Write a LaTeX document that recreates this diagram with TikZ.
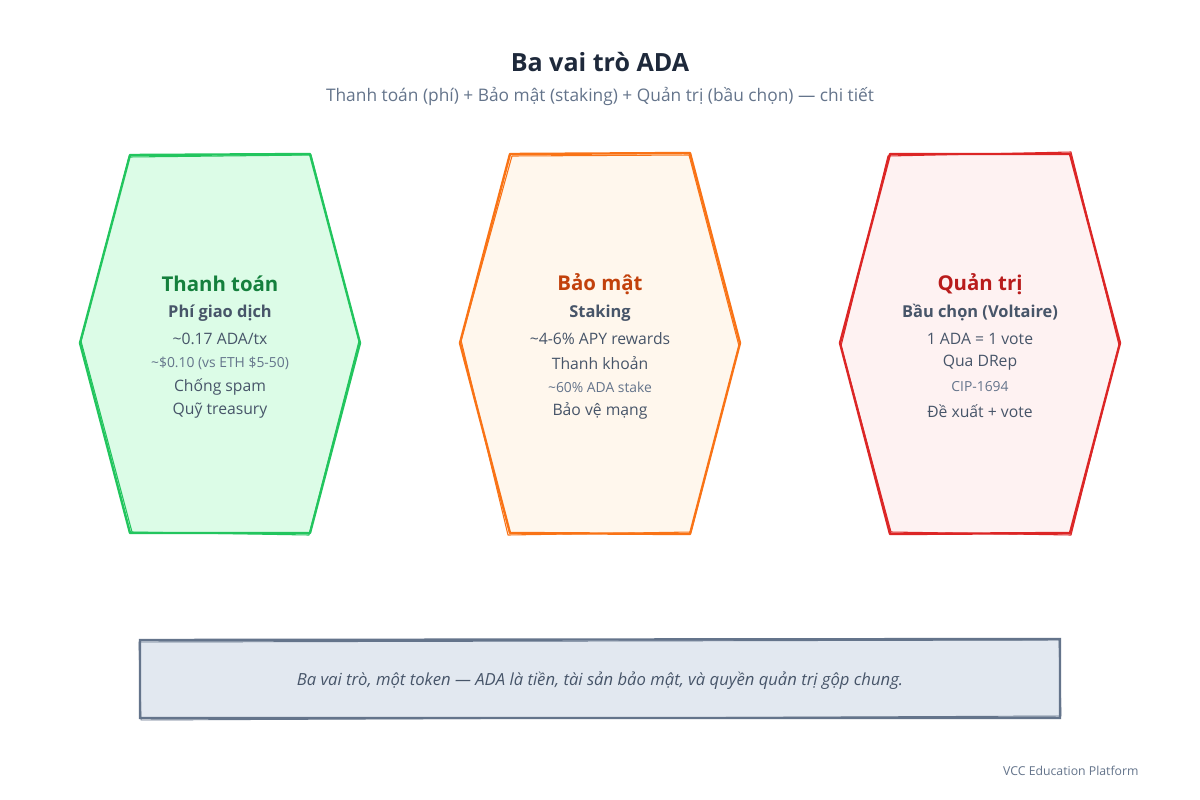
\documentclass[tikz,border=0pt]{standalone}
\usepackage{fontspec}
\setmainfont{Open Sans}

\definecolor{titlecol}{HTML}{1E293B}
\definecolor{subcol}{HTML}{64748B}
\definecolor{bodycol}{HTML}{475569}
\definecolor{greenline}{HTML}{22C55E}
\definecolor{greenfill}{HTML}{DCFCE7}
\definecolor{greenhead}{HTML}{15803D}
\definecolor{orangeline}{HTML}{F97316}
\definecolor{orangefill}{HTML}{FFF7ED}
\definecolor{orangehead}{HTML}{C2410C}
\definecolor{redline}{HTML}{DC2626}
\definecolor{redfill}{HTML}{FEF2F2}
\definecolor{redhead}{HTML}{B91C1C}
\definecolor{boxfill}{HTML}{E2E8F0}
\definecolor{boxline}{HTML}{64748B}

\tikzset{every picture/.style={line width=0.75pt}}
\tikzset{
  headtxt/.style={font=\fontsize{15.3}{18}\selectfont\bfseries},
  subtxt/.style={font=\fontsize{12.3}{14}\selectfont\bfseries, text=bodycol},
  linetxt/.style={font=\fontsize{11.8}{14}\selectfont, text=bodycol},
  smalltxt/.style={font=\fontsize{10.4}{12}\selectfont, text=subcol},
}

\begin{document}
\begin{tikzpicture}[x=0.75pt,y=0.75pt,yscale=-1,xscale=1]
\useasboundingbox (0,0) rectangle (1200,800);
\fill[white] (0,0) rectangle (1200,800);

% Title
\draw (600,62) node [font=\fontsize{18.8}{22}\selectfont\bfseries, text=titlecol] (title) {Ba vai trò ADA};
% Subtitle
\draw (600,96) node [font=\fontsize{13}{15}\selectfont, text=subcol] (subtitle) {Thanh toán (phí) + Bảo mật (staking) + Quản trị (bầu chọn) — chi tiết};

%Shape: Hexagon (Thanh toan)
\draw [color=greenline, fill=greenfill, line width=1.8pt, line join=round] (130,155) -- (310,154) -- (360,343) -- (310,533) -- (130,533) -- (80,343) -- cycle ;
\draw [color=greenline, line width=0.8pt, line join=round] (129,157) -- (311,155) -- (359,341) -- (309,535) -- (132,532) -- (81,341) -- cycle ;

%Shape: Hexagon (Bao mat)
\draw [color=orangeline, fill=orangefill, line width=1.8pt, line join=round] (510,154) -- (690,153) -- (740,343) -- (690,534) -- (510,533) -- (460,343) -- cycle ;
\draw [color=orangeline, line width=0.8pt, line join=round] (512,156) -- (689,155) -- (739,346) -- (691,532) -- (508,535) -- (461,340) -- cycle ;

%Shape: Hexagon (Quan tri)
\draw [color=redline, fill=redfill, line width=1.8pt, line join=round] (890,154) -- (1070,154) -- (1120,343) -- (1070,533) -- (890,534) -- (840,343) -- cycle ;
\draw [color=redline, line width=0.8pt, line join=round] (888,156) -- (1071,152) -- (1119,345) -- (1071,535) -- (891,532) -- (841,346) -- cycle ;

% Text Node
\draw (220,284) node [headtxt, text=greenhead] (payhead) {Thanh toán};
\draw (220,313) node [subtxt] (paysub) {Phí giao dịch};
\draw (220,339) node [linetxt] (payfee) {\textasciitilde0.17 ADA/tx};
\draw (220,363) node [smalltxt] (payusd) {\textasciitilde\$0.10 (vs ETH \$5-50)};
\draw (220,387) node [linetxt] (payspam) {Chống spam};
\draw (220,411) node [linetxt] (paytreas) {Quỹ treasury};

% Text Node
\draw (600,284) node [headtxt, text=orangehead] (sechead) {Bảo mật};
\draw (600,313) node [subtxt] (secsub) {Staking};
\draw (600,339) node [linetxt] (secapy) {\textasciitilde4-6\% APY rewards};
\draw (600,363) node [linetxt] (secliq) {Thanh khoản};
\draw (600,387) node [smalltxt] (secstake) {\textasciitilde60\% ADA stake};
\draw (600,411) node [linetxt] (secnet) {Bảo vệ mạng};

% Text Node
\draw (980,284) node [headtxt, text=redhead] (govhead) {Quản trị};
\draw (980,313) node [subtxt] (govsub) {Bầu chọn (Voltaire)};
\draw (980,339) node [linetxt] (govvote) {1 ADA = 1 vote};
\draw (980,363) node [linetxt] (govdrep) {Qua DRep};
\draw (980,387) node [smalltxt] (govcip) {CIP-1694};
\draw (980,411) node [linetxt] (govprop) {Đề xuất + vote};

%Shape: Rectangle (summary)
\draw [color=boxline, fill=boxfill, line width=1.8pt] (140,640) -- (1060,639) -- (1060,718) -- (140,718) -- cycle ;
\draw [color=boxline, line width=0.7pt] (139,642) -- (1059,640) -- (1061,716) -- (141,720) -- cycle ;
% Text Node
\draw (600,681) node [font=\fontsize{12.5}{14}\selectfont\itshape, text=bodycol] (summary) {Ba vai trò, một token — ADA là tiền, tài sản bảo mật, và quyền quản trị gộp chung.};

% Text Node
\draw (1139,771) node [anchor=east, inner sep=0pt, font=\fontsize{9.2}{11}\selectfont, text=subcol] (footer) {VCC Education Platform};
\end{tikzpicture}
\end{document}
